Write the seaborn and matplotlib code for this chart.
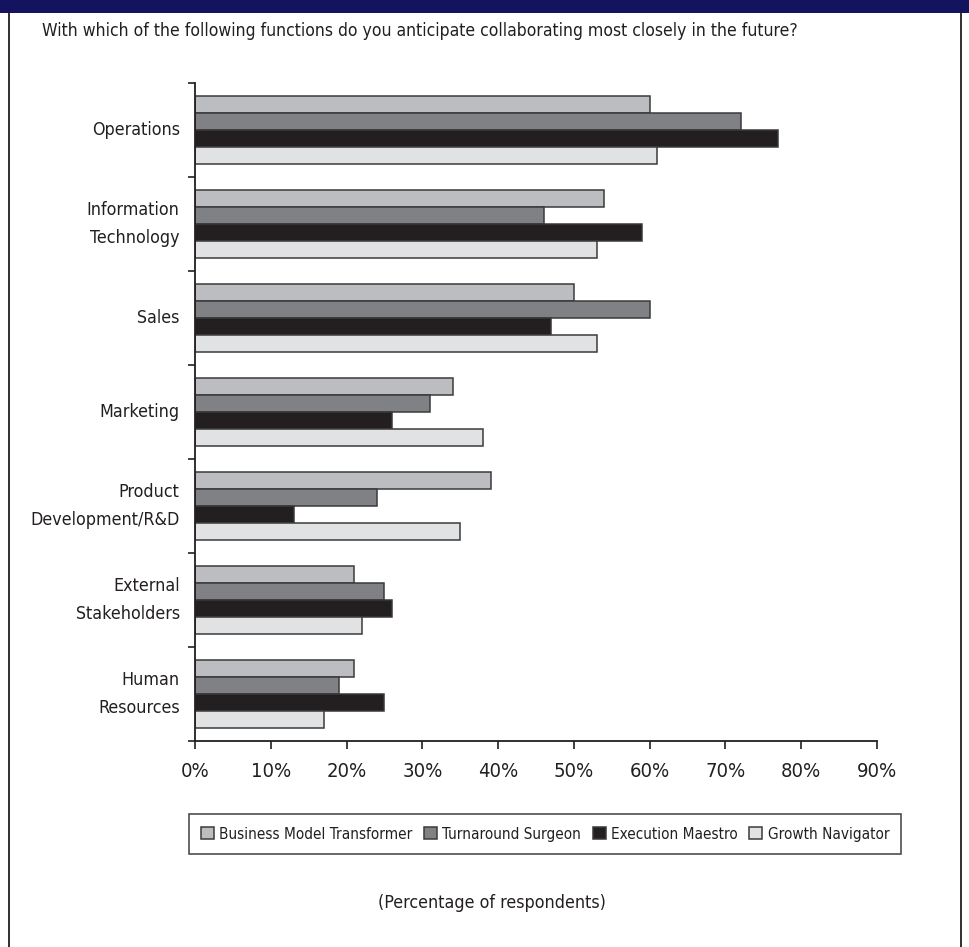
import matplotlib
matplotlib.use("Agg")
import matplotlib.pyplot as plt
from matplotlib import font_manager as fm
from matplotlib.patches import Rectangle, Patch
from matplotlib.lines import Line2D
from matplotlib.ticker import FixedLocator, PercentFormatter
import pandas as pd
import seaborn as sns

# Survey results (percentage of respondents)
functions = [
    "Operations",
    "Information\nTechnology",
    "Sales",
    "Marketing",
    "Product\nDevelopment/R&D",
    "External\nStakeholders",
    "Human\nResources",
]
profiles = [
    "Business Model Transformer",
    "Turnaround Surgeon",
    "Execution Maestro",
    "Growth Navigator",
]
business_model_transformer = [60, 54, 50, 34, 39, 21, 21]
turnaround_surgeon = [72, 46, 60, 31, 24, 25, 19]
execution_maestro = [77, 59, 47, 26, 13, 26, 25]
growth_navigator = [61, 53, 53, 38, 35, 22, 17]
x_ticks = [0, 10, 20, 30, 40, 50, 60, 70, 80, 90]

colors = ["#bcbdc1", "#808184", "#231f20", "#e1e2e4"]
edge = "#3a3a3a"
navy = "#14135f"
text_color = "#231f20"

sns.set_theme(style="white")

# Prefer a narrow face; fall back to a smaller regular face
condensed = [f for f in fm.fontManager.ttflist
             if f.name == "DejaVu Sans" and f.stretch == "condensed" and f.style == "normal"]
narrow = [f for f in fm.fontManager.ttflist if f.name == "Liberation Sans Narrow"]
if narrow:
    plt.rcParams["font.family"] = ["Liberation Sans Narrow", "DejaVu Sans"]
    scale = 1.13
elif condensed:
    plt.rcParams["font.family"] = ["DejaVu Sans"]
    plt.rcParams["font.stretch"] = "condensed"
    scale = 1.0
else:
    plt.rcParams["font.family"] = ["DejaVu Sans"]
    scale = 0.83

fs_label = 12.8 * scale
fs_title = 12.6 * scale
fs_xtick = 14.5 * scale
fs_legend = 11.0 * scale

rows = []
for name, vals in zip(profiles, [business_model_transformer, turnaround_surgeon,
                                 execution_maestro, growth_navigator]):
    for func, v in zip(functions, vals):
        rows.append({"function": func, "profile": name, "value": v})
df = pd.DataFrame(rows)

fig = plt.figure(figsize=(9.70, 9.47), dpi=100)
ax = fig.add_axes([195 / 970, 1 - 741 / 947, 682 / 970, 658 / 947])

sns.barplot(data=df, y="function", x="value", hue="profile", order=functions,
            hue_order=profiles, palette=colors, orient="h", width=0.72,
            edgecolor=edge, linewidth=1.1, ax=ax, legend=False, saturation=1)

ax.set_xlim(0, 90)
ax.set_ylim(len(functions) - 0.5, -0.5)
ax.set_xlabel("")
ax.set_ylabel("")
ax.set_facecolor("white")

# x axis
ax.xaxis.set_major_locator(FixedLocator(x_ticks))
ax.xaxis.set_major_formatter(PercentFormatter(decimals=0))
ax.tick_params(axis="x", which="major", direction="out", length=6, width=1.2,
               color=text_color, labelsize=fs_xtick, labelcolor=text_color, pad=9,
               bottom=True)

# y axis: boundary ticks, centred labels
ax.yaxis.set_major_locator(FixedLocator([i - 0.5 for i in range(len(functions) + 1)]))
ax.yaxis.set_minor_locator(FixedLocator(list(range(len(functions)))))
ax.set_yticklabels([""] * (len(functions) + 1))
ax.set_yticklabels(functions, minor=True, ha="right", va="center",
                   multialignment="right")
ax.tick_params(axis="y", which="major", direction="out", length=5, width=1.2,
               color=text_color, left=True)
ax.tick_params(axis="y", which="minor", length=0, labelsize=fs_label,
               labelcolor=text_color, pad=11)
for lbl in ax.get_yticklabels(minor=True):
    lbl.set_linespacing(1.75)
    lbl.set_verticalalignment("center")

for side in ["top", "right"]:
    ax.spines[side].set_visible(False)
for side in ["left", "bottom"]:
    ax.spines[side].set_color(text_color)
    ax.spines[side].set_linewidth(1.3)

# Frame and header band
fig.patches.append(Rectangle((0, 1 - 13 / 947), 1, 13 / 947, transform=fig.transFigure,
                             facecolor=navy, edgecolor="none"))
for xf in (9.5 / 970, 961.5 / 970):
    fig.lines.append(Line2D([xf, xf], [0, 1 - 13 / 947], transform=fig.transFigure,
                            color=text_color, linewidth=1.3))

fig.text(42 / 970, 1 - 31 / 947,
         "With which of the following functions do you anticipate collaborating most closely in the future?",
         ha="left", va="center", fontsize=fs_title, color=text_color)

handles = [Patch(facecolor=c, edgecolor=edge, linewidth=1.1) for c in colors]
leg = fig.legend(handles, profiles, loc="center", bbox_to_anchor=(545 / 970, 1 - 834 / 947),
                 ncol=4, frameon=True, fancybox=False, fontsize=fs_legend,
                 handlelength=0.85, handleheight=0.85, handletextpad=0.35,
                 columnspacing=0.75, borderpad=0.8, labelcolor=text_color)
leg.get_frame().set_edgecolor(text_color)
leg.get_frame().set_linewidth(1.2)

fig.text(492 / 970, 1 - 903 / 947, "(Percentage of respondents)", ha="center",
         va="center", fontsize=fs_label, color=text_color)

fig.savefig("out.png", dpi=100, facecolor="white")
